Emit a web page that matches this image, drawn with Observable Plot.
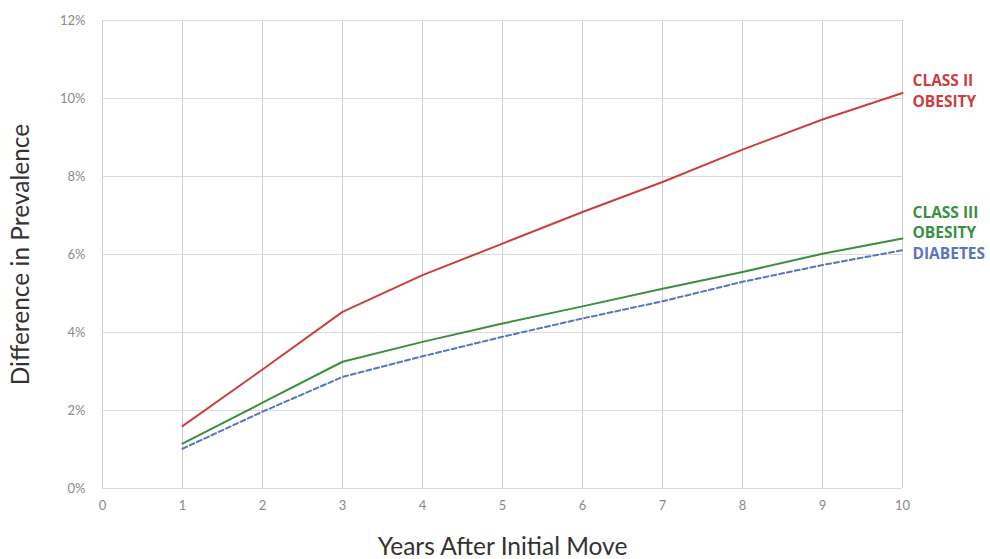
<!DOCTYPE html>
<html>
<head>
<meta charset="utf-8">
<script src="https://cdn.jsdelivr.net/npm/d3@7"></script>
<script src="https://cdn.jsdelivr.net/npm/@observablehq/plot@0.6"></script>
<style>
  html, body { margin: 0; padding: 0; background: #fff; }
  #chart svg { display: block; }
</style>
</head>
<body>
<div id="chart"></div>
<script>
const years = [1, 2, 3, 4, 5, 6, 7, 8, 9, 10];
const classII = [1.6, 3.05, 4.53, 5.47, 6.28, 7.09, 7.86, 8.69, 9.46, 10.14];
const classIII = [1.15, 2.2, 3.25, 3.76, 4.23, 4.67, 5.12, 5.55, 6.02, 6.41];
const diabetes = [1.02, 1.97, 2.86, 3.39, 3.89, 4.36, 4.8, 5.3, 5.73, 6.11];
const seriesNames = ["CLASS II\nOBESITY", "CLASS III\nOBESITY", "DIABETES"];
const xTicks = [0, 1, 2, 3, 4, 5, 6, 7, 8, 9, 10];
const yTicks = [0, 2, 4, 6, 8, 10, 12];

const colors = { red: "#c8403f", green: "#3b8f43", blue: "#5676bd" };

const toRows = (vals, name) => years.map((y, i) => ({ year: y, value: vals[i], series: name }));
const rII = toRows(classII, seriesNames[0]);
const rIII = toRows(classIII, seriesNames[1]);
const rD = toRows(diabetes, seriesNames[2]);

const last = rows => [rows[rows.length - 1]];
const labelFont = "'Open Sans', Lato, sans-serif";

const chart = Plot.plot({
  width: 990,
  height: 559,
  marginLeft: 102,
  marginRight: 88,
  marginTop: 20,
  marginBottom: 71,
  style: { fontFamily: "Lato, 'Open Sans', sans-serif", background: "#fff" },
  x: { domain: [0, 10], ticks: xTicks },
  y: { domain: [0, 12], ticks: yTicks },
  marks: [
    Plot.gridX(xTicks, { stroke: "#d0d0d0", strokeOpacity: 1, strokeWidth: 1 }),
    Plot.gridY(yTicks, { stroke: "#dadada", strokeOpacity: 1, strokeWidth: 1 }),
    Plot.axisX({
      ticks: xTicks, tickSize: 0, tickPadding: 12, fontSize: 13, color: "#8a8a8a",
      label: "Years After Initial Move", labelAnchor: "center", labelArrow: "none", labelOffset: 66
    }),
    Plot.axisY({
      ticks: yTicks, tickSize: 0, tickPadding: 17, fontSize: 13, color: "#8a8a8a",
      tickFormat: d => d + "%",
      label: "Difference in Prevalence", labelAnchor: "center", labelArrow: "none", labelOffset: 91
    }),
    Plot.line(rII, { x: "year", y: "value", stroke: colors.red, strokeWidth: 2 }),
    Plot.line(rIII, { x: "year", y: "value", stroke: colors.green, strokeWidth: 2 }),
    Plot.line(rD, { x: "year", y: "value", stroke: colors.blue, strokeWidth: 2, strokeDasharray: "5,3" }),
    Plot.text(last(rII), { x: "year", y: "value", text: "series", fill: colors.red, textAnchor: "start", dx: 10, dy: -3, fontSize: 15.5, fontWeight: "bold", lineHeight: 1.33, fontFamily: labelFont }),
    Plot.text(last(rIII), { x: "year", y: "value", text: "series", fill: colors.green, textAnchor: "start", dx: 10, dy: -17, fontSize: 15.5, fontWeight: "bold", lineHeight: 1.33, fontFamily: labelFont }),
    Plot.text(last(rD), { x: "year", y: "value", text: "series", fill: colors.blue, textAnchor: "start", dx: 10, dy: 4, fontSize: 15.5, fontWeight: "bold", fontFamily: labelFont })
  ]
});
// axis label styling
d3.select(chart).selectAll("[aria-label='x-axis label'] text, [aria-label='y-axis label'] text")
  .attr("font-size", 24.5).attr("fill", "#333");
document.getElementById("chart").appendChild(chart);
</script>
</body>
</html>
